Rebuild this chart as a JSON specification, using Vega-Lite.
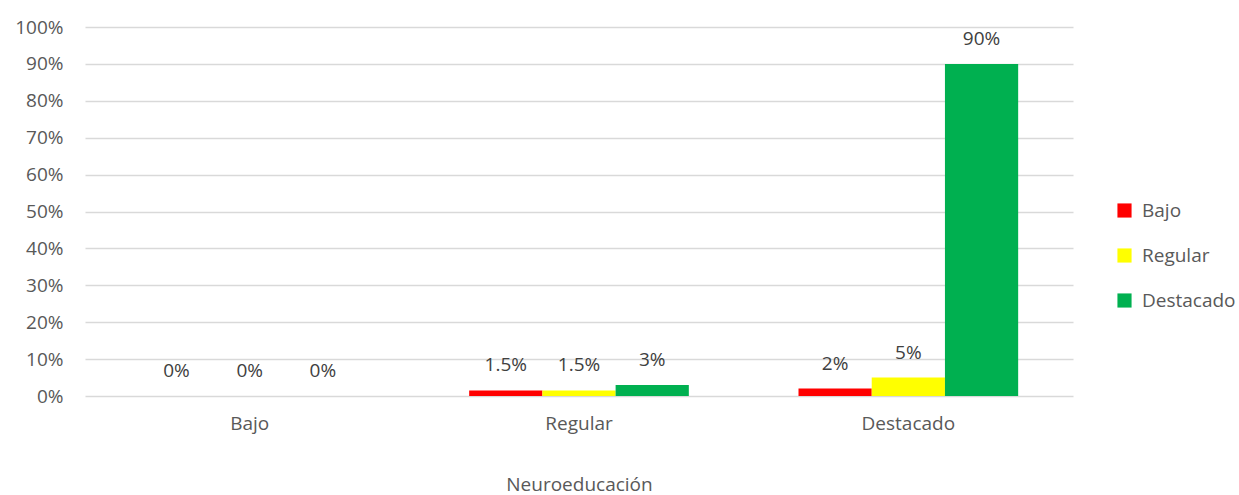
{
  "$schema": "https://vega.github.io/schema/vega-lite/v6.json",
  "width": 988,
  "height": 369,
  "autosize": {"type": "none"},
  "padding": {"left": 85, "top": 27, "right": 166, "bottom": 99},
  "background": "white",
  "config": {
    "view": {"stroke": null},
    "font": "Open Sans",
    "text": {"font": "Open Sans"}
  },
  "data": {
    "values": [
      {"categoria": "Bajo", "nivel": "Bajo", "valor": 0},
      {"categoria": "Bajo", "nivel": "Regular", "valor": 0},
      {"categoria": "Bajo", "nivel": "Destacado", "valor": 0},
      {"categoria": "Regular", "nivel": "Bajo", "valor": 0.015},
      {"categoria": "Regular", "nivel": "Regular", "valor": 0.015},
      {"categoria": "Regular", "nivel": "Destacado", "valor": 0.03},
      {"categoria": "Destacado", "nivel": "Bajo", "valor": 0.02},
      {"categoria": "Destacado", "nivel": "Regular", "valor": 0.05},
      {"categoria": "Destacado", "nivel": "Destacado", "valor": 0.9}
    ]
  },
  "encoding": {
    "x": {
      "field": "categoria",
      "type": "nominal",
      "sort": ["Bajo", "Regular", "Destacado"],
      "scale": {"paddingInner": 0.333, "paddingOuter": 0.1665},
      "axis": {
        "title": "Neuroeducación",
        "titleFont": "Open Sans",
        "titleFontSize": 19,
        "titleFontWeight": "normal",
        "titleColor": "#595959",
        "titlePadding": 42,
        "labelAngle": 0,
        "labelFont": "Open Sans",
        "labelFontSize": 19,
        "labelColor": "#595959",
        "labelPadding": 18,
        "domain": false,
        "ticks": false,
        "grid": false
      }
    },
    "xOffset": {
      "field": "nivel",
      "type": "nominal",
      "sort": ["Bajo", "Regular", "Destacado"],
      "scale": {"paddingInner": 0, "paddingOuter": 0}
    },
    "y": {
      "field": "valor",
      "type": "quantitative",
      "scale": {"domain": [0, 1], "nice": false},
      "axis": {
        "title": null,
        "format": "~%",
        "values": [0, 0.1, 0.2, 0.3, 0.4, 0.5, 0.6, 0.7, 0.8, 0.9, 1],
        "labelOverlap": false,
        "labelFont": "Open Sans",
        "labelFontSize": 19,
        "labelColor": "#595959",
        "labelPadding": 22,
        "domain": false,
        "ticks": false,
        "grid": true,
        "gridColor": "#d9d9d9",
        "gridWidth": 1.5
      }
    }
  },
  "layer": [
    {
      "mark": {"type": "bar"},
      "encoding": {
        "color": {
          "field": "nivel",
          "type": "nominal",
          "sort": ["Bajo", "Regular", "Destacado"],
          "scale": {"domain": ["Bajo", "Regular", "Destacado"], "range": ["#ff0000", "#ffff00", "#00b050"]},
          "legend": {
            "title": null,
            "orient": "none",
            "legendX": 1030,
            "legendY": 174,
            "symbolType": "square",
            "symbolSize": 200,
            "symbolStrokeWidth": 0,
            "labelFont": "Open Sans",
            "labelFontSize": 19,
            "labelColor": "#595959",
            "labelOffset": 8,
            "rowPadding": 25
          }
        }
      }
    },
    {
      "mark": {"type": "text", "baseline": "bottom", "dy": -15, "fontSize": 19, "color": "#404040", "font": "Open Sans"},
      "encoding": {
        "text": {"field": "valor", "type": "quantitative", "format": ".1~%"}
      }
    }
  ]
}
